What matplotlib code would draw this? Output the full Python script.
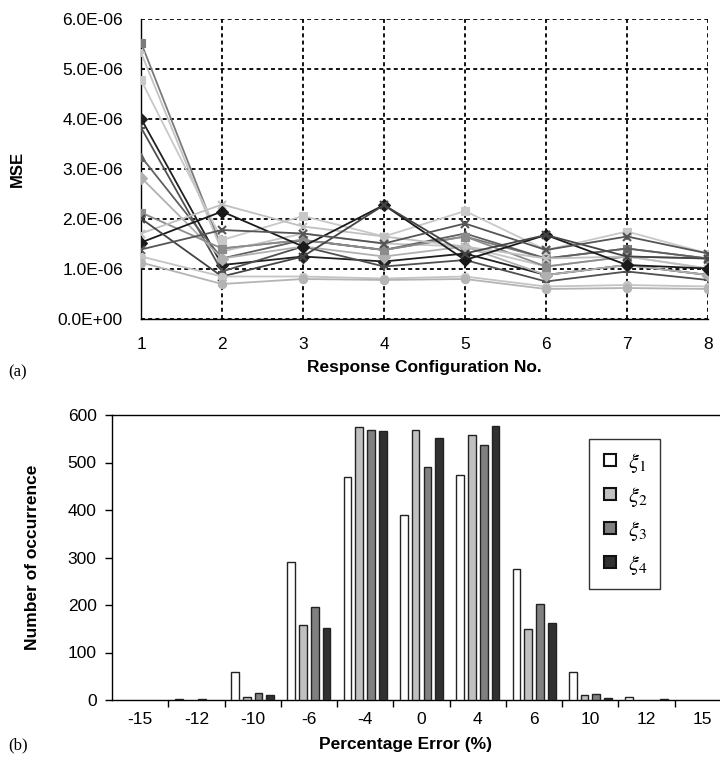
import matplotlib
matplotlib.use("Agg")
import matplotlib.pyplot as plt
from matplotlib.lines import Line2D
from matplotlib.ticker import FuncFormatter, FixedLocator
import numpy as np

plt.rcParams['font.family'] = ['Liberation Sans', 'DejaVu Sans']
plt.rcParams['mathtext.fontset'] = 'stix'

# ---- (a) MSE per response configuration (values in 1e-6) ----
configs = [1, 2, 3, 4, 5, 6, 7, 8]
mse_series = [
    [5.53, 1.41, 1.58, 1.38, 1.65, 1.21, 1.41, 1.21],
    [5.33, 1.35, 1.71, 1.51, 1.45, 1.05, 1.25, 1.01],
    [4.78, 1.58, 2.06, 1.65, 2.16, 1.38, 1.75, 1.31],
    [4.01, 1.08, 1.25, 1.15, 1.31, 0.88, 1.08, 0.88],
    [3.83, 0.95, 1.45, 1.05, 1.18, 0.75, 0.95, 0.78],
    [3.25, 1.21, 1.58, 1.38, 1.71, 1.21, 1.41, 1.21],
    [2.83, 1.21, 1.45, 1.25, 1.45, 0.88, 1.08, 0.88],
    [2.13, 1.41, 1.58, 1.38, 1.65, 1.05, 1.25, 1.21],
    [1.71, 2.29, 1.85, 1.65, 1.45, 1.21, 1.25, 1.01],
    [1.53, 2.15, 1.45, 2.28, 1.18, 1.68, 1.08, 1.01],
    [2.01, 0.85, 1.25, 2.28, 1.31, 1.68, 1.25, 1.21],
    [1.39, 1.78, 1.71, 1.51, 1.91, 1.38, 1.65, 1.31],
    [1.25, 0.85, 0.85, 0.81, 0.85, 0.65, 0.68, 0.65],
    [1.13, 0.70, 0.80, 0.78, 0.80, 0.60, 0.62, 0.60],
]
line_colors = ['#7a7a7a', '#c4c4c4', '#c8c8c8', '#202020', '#505050', '#606060', '#b0b0b0',
               '#8c8c8c', '#c0c0c0', '#1a1a1a', '#444444', '#555555', '#c4c4c4', '#b4b4b4']
line_markers = ['s', '+', 's', 'D', '+', '^', 'D', 's', 'x', 'D', 'x', 'x', 'o', 'o']

# ---- (b) histogram of percentage error ----
err_labels = ['-15', '-12', '-10', '-6', '-4', '0', '4', '6', '10', '12', '15']
xi1 = [0, 3, 58, 290, 469, 390, 474, 276, 59, 7, 0]
xi2 = [0, 0, 6, 157, 574, 569, 557, 149, 10, 0, 0]
xi3 = [0, 3, 15, 196, 569, 491, 537, 202, 12, 0, 0]
xi4 = [0, 0, 10, 152, 567, 551, 576, 163, 4, 3, 0]
bar_colors = ['white', '#c0c0c0', '#808080', '#303030']

W, H = 720, 763
fig = plt.figure(figsize=(W / 100, H / 100), dpi=100)

# top panel
ax1 = fig.add_axes([141 / W, 1 - 319 / H, (708 - 141) / W, 300 / H])
for vals, c, m in zip(mse_series, line_colors, line_markers):
    ax1.plot(configs, np.array(vals) * 1e-6, color=c, marker=m, markersize=6,
             markeredgewidth=1.5 if m in ('x', '+') else 0.8, lw=1.3, zorder=3)
ax1.set_xlim(1, 8)
ax1.set_ylim(0, 6e-6)
ax1.set_xticks(configs)
ax1.set_yticks(np.arange(0, 7) * 1e-6)
ax1.yaxis.set_major_formatter(FuncFormatter(lambda v, p: '%.1E' % v))
ax1.grid(True, color='black', linestyle=(0, (2.2, 1.8)), linewidth=1.3)
ax1.set_axisbelow(True)
for s in ('top', 'right'):
    ax1.spines[s].set_visible(False)
for s in ('left', 'bottom'):
    ax1.spines[s].set_linewidth(1.0)
ax1.tick_params(axis='x', length=0, pad=13, labelsize=12.5)
ax1.tick_params(axis='y', length=0, pad=13, labelsize=12.5)
ax1.set_ylabel('MSE', fontsize=12, fontweight='bold', labelpad=24)
ax1.set_xlabel('Response Configuration No.', fontsize=12.5, fontweight='bold', labelpad=6)
fig.text(8 / W, 1 - 372 / H, '(a)', family='Liberation Serif', fontsize=12, va='center')

# bottom panel
ax2 = fig.add_axes([112 / W, 1 - 700 / H, (731 - 112) / W, 285 / H])
pos = np.arange(len(err_labels))
bw = 0.137
step = 0.209
for k, (vals, c) in enumerate(zip([xi1, xi2, xi3, xi4], bar_colors)):
    vals = np.array(vals)
    keep = vals > 0
    ax2.bar(pos[keep] + (k - 1.5) * step, vals[keep], width=bw, color=c,
            edgecolor='#222222', linewidth=1.0, zorder=3)
ax2.set_xlim(-0.5, len(err_labels) - 0.5)
ax2.set_ylim(0, 600)
ax2.set_yticks(range(0, 700, 100))
ax2.xaxis.set_major_locator(FixedLocator(pos[:-1] + 0.5))
ax2.xaxis.set_minor_locator(FixedLocator(pos))
ax2.set_xticklabels([], minor=False)
ax2.set_xticklabels(err_labels, minor=True)
ax2.tick_params(axis='x', which='major', direction='out', length=5, width=1)
ax2.tick_params(axis='x', which='minor', length=0, pad=9, labelsize=12.5)
ax2.tick_params(axis='y', direction='out', length=5, width=1, pad=6, labelsize=12.5)
ax2.spines['right'].set_visible(False)
for s in ('left', 'bottom', 'top'):
    ax2.spines[s].set_linewidth(1.0)
ax2.set_ylabel('Number of occurrence', fontsize=12.5, fontweight='bold', labelpad=20)
ax2.set_xlabel('Percentage Error (%)', fontsize=12.5, fontweight='bold')
ax2.xaxis.set_label_coords((405 - 112) / (731 - 112), -0.13)

handles = [Line2D([], [], linestyle='none', marker='s', markersize=9,
                  markerfacecolor=c, markeredgecolor='#111111', markeredgewidth=1.5)
           for c in bar_colors]
labels = [r'$\xi_1$', r'$\xi_2$', r'$\xi_3$', r'$\xi_4$']
leg = fig.legend(handles, labels, loc='upper left', bbox_to_anchor=(589 / W, 1 - 439 / H),
                 bbox_transform=fig.transFigure, fontsize=16, frameon=True, fancybox=False,
                 edgecolor='black', labelspacing=0.45, handlelength=0.8, handletextpad=0.4,
                 borderpad=0.55, borderaxespad=0)
leg.get_frame().set_linewidth(1.0)
fig.text(8 / W, 1 - 745 / H, '(b)', family='Liberation Serif', fontsize=12, va='center')

fig.savefig('out.png', dpi=100)
